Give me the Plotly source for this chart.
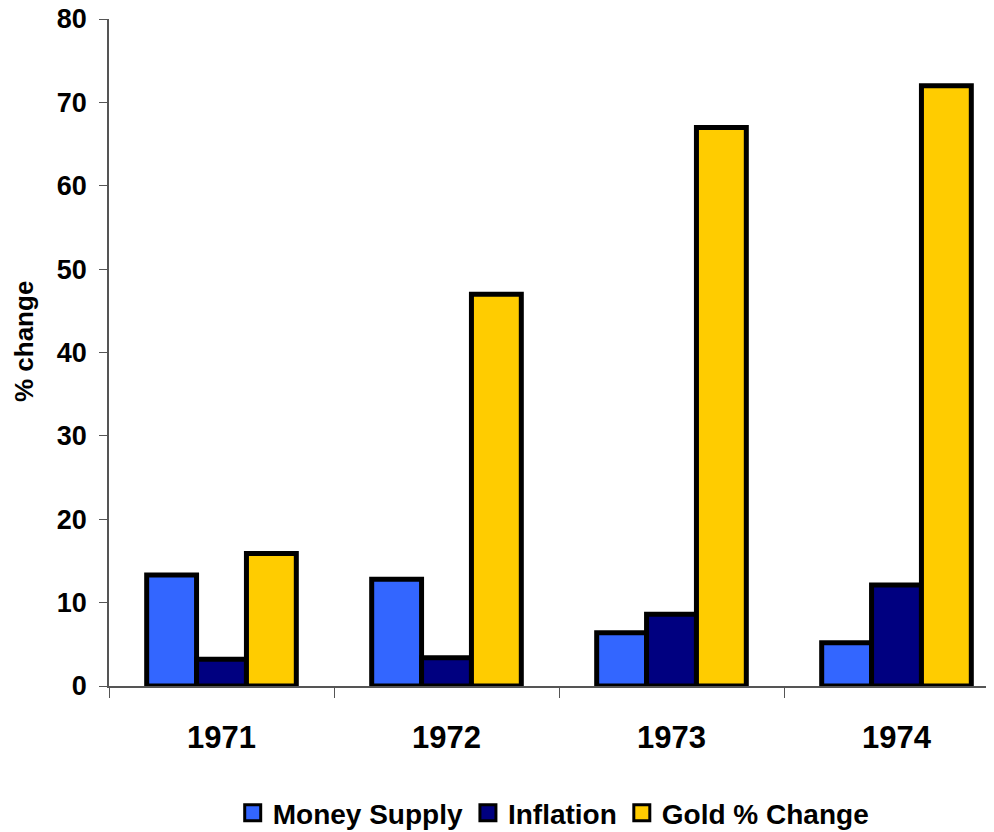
import plotly.graph_objects as go

years = ["1971", "1972", "1973", "1974"]
money_supply = [13.3, 12.8, 6.4, 5.2]
inflation = [3.2, 3.4, 8.6, 12.1]
gold_change = [15.9, 47, 67, 72]
y_ticks = [0, 10, 20, 30, 40, 50, 60, 70, 80]

FONT = "Liberation Sans, Arial, sans-serif"
series = [
    ("Money Supply", money_supply, "#3366FF"),
    ("Inflation", inflation, "#000080"),
    ("Gold % Change", gold_change, "#FFCC00"),
]

fig = go.Figure()
for name, vals, col in series:
    fig.add_trace(go.Bar(
        x=years, y=vals, name=name, showlegend=False,
        marker=dict(color=col, line=dict(color="black", width=5)),
    ))
# legend entries (square swatches with black outline)
for name, vals, col in series:
    fig.add_trace(go.Scatter(
        x=[None], y=[None], name=name, mode="markers", showlegend=True,
        marker=dict(symbol="square", size=16, color=col, line=dict(color="black", width=3)),
    ))

fig.update_layout(
    width=994, height=832,
    margin=dict(l=101, r=8, t=11, b=154, autoexpand=False),
    paper_bgcolor="white", plot_bgcolor="white",
    barmode="group", bargap=0.335, bargroupgap=0,
    font=dict(family=FONT, color="black"),
    showlegend=True,
    legend=dict(
        orientation="h", xref="container", yref="container",
        x=0.549, xanchor="center", y=0.0325, yanchor="middle",
        font=dict(size=28, family=FONT, weight="bold"),
        itemsizing="trace", traceorder="normal",
        itemwidth=30, tracegroupgap=0,
    ),
    annotations=[dict(
        text="% change", textangle=-90, showarrow=False,
        xref="paper", yref="paper", x=0, y=0.5157,
        xanchor="center", yanchor="middle", xshift=-85,
        font=dict(size=26, family=FONT, weight="bold", color="black"),
    )],
)
fig.update_xaxes(
    type="category", range=[-0.5, -0.5 + 885 / 225], automargin=False,
    showline=True, linecolor="#555555", linewidth=1.5,
    ticks="outside", tickson="boundaries", ticklen=10, tickcolor="#555555",
    tickfont=dict(size=31, family=FONT, weight="bold"),
    ticklabelstandoff=23, ticklabeloverflow="allow",
    showgrid=False, zeroline=False,
)
fig.update_yaxes(
    range=[0, 80], tickvals=y_ticks, automargin=False,
    showline=True, linecolor="#555555", linewidth=1.5,
    ticks="outside", ticklen=8, tickcolor="#555555",
    tickfont=dict(size=27, family=FONT, weight="bold"),
    ticklabelstandoff=7, ticklabeloverflow="allow",
    showgrid=False, zeroline=False,
)

fig.write_html("out.html")
